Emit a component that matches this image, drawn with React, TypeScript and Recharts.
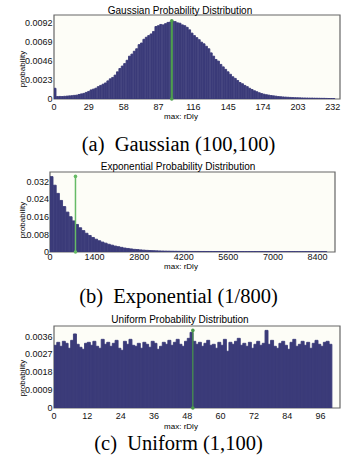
import React from "react";
import {
  ComposedChart,
  Bar,
  XAxis,
  YAxis,
  CartesianGrid,
  ReferenceArea,
  ReferenceLine,
  ReferenceDot,
} from "recharts";

const BAR_COLOR = "#3b3b79";
const PLOT_BG = "#fdfdf7";
const SANS = "'Liberation Sans', Arial, sans-serif";
const SERIF = "'Liberation Serif', 'Times New Roman', serif";

// (a) Gaussian — bins 2 wide, starting at 0
const gaussBinWidth = 2;
const gaussProb = [
  0.0013, 0.0003, 0.00031, 0.0003, 0.00033, 0.00035, 0.00038, 0.0004, 0.00044, 0.00047,
  0.00055, 0.00062, 0.00068, 0.0008, 0.00092, 0.0011, 0.0012, 0.00131, 0.0015, 0.00165,
  0.0018, 0.00195, 0.0022, 0.00245, 0.00262, 0.0029, 0.0033, 0.0037, 0.004, 0.0043,
  0.0047, 0.0052, 0.00545, 0.0058, 0.0061, 0.0066, 0.0068, 0.00725, 0.0075, 0.0077,
  0.0079, 0.0082, 0.0088, 0.0089, 0.00905, 0.009, 0.00915, 0.0093, 0.00935, 0.00945,
  0.0094, 0.00925, 0.0092, 0.009, 0.0089, 0.0087, 0.0084, 0.008, 0.0077, 0.00745,
  0.0072, 0.0069, 0.0067, 0.0064, 0.0061, 0.0056, 0.0052, 0.0048, 0.0046, 0.0042,
  0.0039, 0.0036, 0.0033, 0.003, 0.0027, 0.0025, 0.00225, 0.002, 0.00185, 0.00165,
  0.0015, 0.0013, 0.00115, 0.001, 0.00088, 0.00076, 0.00066, 0.00058, 0.00052, 0.00047,
  0.00042, 0.00038, 0.00034, 0.0003, 0.00027, 0.00025, 0.00023, 0.00021, 0.00019, 0.00017,
  0.00016, 0.00015, 0.00014, 0.00013, 0.00012, 0.00012, 0.00011, 0.00011, 0.0001, 0.00009,
  0.00009, 0.00008, 0.00008, 0.00007, 0.00006, 0.00006, 0.00005,
];
const gaussXTicks = [0, 29, 58, 87, 116, 145, 174, 203, 232];
const gaussYTicks = [0, 0.0023, 0.0046, 0.0069, 0.0092];
const gaussMax = { x: 98, y: 0.0095 };

// (b) Exponential — bins 100 wide
const expBinWidth = 100;
const expProb = [
  0.0342, 0.0303, 0.0266, 0.0234, 0.0206, 0.0181, 0.016, 0.0141, 0.0125, 0.011,
  0.0097, 0.0085, 0.0075, 0.0066, 0.0058, 0.0051, 0.0045, 0.004, 0.0035, 0.0031,
  0.0027, 0.0024, 0.0021, 0.0018, 0.0016, 0.0014, 0.0012, 0.0011, 0.00095, 0.00084,
  0.00074, 0.00066, 0.00059, 0.00053, 0.00048, 0.00044, 0.0004, 0.00037, 0.00034, 0.00032,
  0.0003, 0.00029, 0.00028, 0.00027, 0.00026, 0.00026, 0.00025, 0.00024, 0.00024, 0.00023,
  0.00023, 0.00022, 0.00022, 0.00021, 0.00022, 0.00021, 0.0002, 0.00021, 0.0002, 0.0002,
  0.0002, 0.00019, 0.0002, 0.00019, 0.00019, 0.00018, 0.00019, 0.00018, 0.00018, 0.00018,
  0.00017, 0.00018, 0.00017, 0.00017, 0.00016, 0.00017, 0.00016, 0.00016, 0.00016, 0.00015,
  0.00016, 0.00015, 0.00015, 0.00014, 0.00015, 0.00014, 0.00013,
];
const expXTicks = [0, 1400, 2800, 4200, 5600, 7000, 8400];
const expYTicks = [0, 0.008, 0.016, 0.024, 0.032];
const expMax = { x: 800, y: 0.0343 };

// (c) Uniform — bins 1 wide
const uniBinWidth = 1;
const uniProb = [
  0.00315, 0.0033, 0.0031, 0.00335, 0.00325, 0.003, 0.0034, 0.00372, 0.0032, 0.00305,
  0.00295, 0.00325, 0.0033, 0.00315, 0.00335, 0.0031, 0.003, 0.00345, 0.0032, 0.0033,
  0.0031, 0.00325, 0.0034, 0.003, 0.0029, 0.00335, 0.0032, 0.00345, 0.00315, 0.0031,
  0.00325, 0.003, 0.0033, 0.0032, 0.00305, 0.00335, 0.00325, 0.00295, 0.0031, 0.0033,
  0.0032, 0.0034, 0.00315, 0.0033, 0.00345, 0.0032, 0.0031, 0.00335, 0.0035, 0.0038,
  0.00335, 0.0032, 0.0033, 0.0031, 0.00325, 0.0034, 0.00315, 0.0032, 0.003, 0.0033,
  0.00315, 0.00345, 0.00285, 0.0033, 0.0032, 0.00335, 0.0035, 0.00315, 0.00325, 0.0031,
  0.0033, 0.003, 0.0032, 0.00335, 0.00315, 0.00325, 0.0039, 0.0032, 0.0034, 0.0031,
  0.003, 0.00325, 0.00335, 0.00315, 0.00295, 0.0033, 0.00345, 0.0031, 0.0032, 0.00335,
  0.00315, 0.0033, 0.003, 0.00325, 0.0034, 0.0032, 0.0031, 0.0033, 0.00335, 0.0032,
];
const uniXTicks = [0, 12, 24, 36, 48, 60, 72, 84, 96];
const uniYTicks = [0, 0.0009, 0.0018, 0.0027, 0.0036];
const uniMax = { x: 50, y: 0.0039 };

const toRows = (probs: number[], w: number) =>
  probs.map((p, i) => ({ x: w * i + w / 2, p }));

const fmt4 = (v: number) => (v === 0 ? "0" : v.toFixed(4));
const fmt3 = (v: number) => (v === 0 ? "0" : v.toFixed(3));

type Layout = {
  top: number;
  height: number;
  mt: number;
  mr: number;
  yw: number;
  xh: number;
  xtm: number;
  ytm: number;
};

function Hist(props: {
  rows: { x: number; p: number }[];
  xMax: number;
  yMax: number;
  xTicks: number[];
  yTicks: number[];
  yFmt: (v: number) => string;
  mark: { x: number; y: number };
  markColor: string;
  markWidth: number;
  lay: Layout;
}) {
  const { rows, xMax, yMax, xTicks, yTicks, yFmt, mark, markColor, markWidth, lay } = props;
  const tick = { fontSize: 9, fill: "#111", fontFamily: SANS };
  return (
    <div style={{ position: "absolute", left: 0, top: lay.top }}>
      <ComposedChart
        width={357}
        height={lay.height}
        data={rows}
        margin={{ top: lay.mt, right: lay.mr, bottom: 0, left: 0 }}
        barCategoryGap={0}
        barGap={0}
      >
        <CartesianGrid fill={PLOT_BG} horizontal={false} vertical={false} />
        <XAxis
          type="number"
          dataKey="x"
          domain={[0, xMax]}
          ticks={xTicks}
          interval={0}
          allowDataOverflow
          height={lay.xh}
          axisLine={false}
          tickLine={false}
          tickSize={0}
          tickMargin={lay.xtm}
          tick={tick}
        />
        <YAxis
          type="number"
          domain={[0, yMax]}
          ticks={yTicks}
          interval={0}
          allowDataOverflow
          width={lay.yw}
          axisLine={false}
          tickLine={false}
          tickSize={0}
          tickMargin={lay.ytm}
          tickFormatter={yFmt}
          tick={tick}
        />
        {/* thin stroke closes the sub-pixel gaps left by integer bar widths */}
        <Bar dataKey="p" fill={BAR_COLOR} stroke={BAR_COLOR} strokeWidth={0.9} isAnimationActive={false} />
        <ReferenceArea x1={0} x2={xMax} y1={0} y2={yMax} fill="none" stroke="#666" strokeWidth={1.2} />
        <ReferenceLine
          segment={[{ x: mark.x, y: 0 }, { x: mark.x, y: mark.y }]}
          stroke={markColor}
          strokeWidth={markWidth}
        />
        <ReferenceDot x={mark.x} y={mark.y} r={1.8} fill={markColor} stroke="none" />
        <ReferenceDot x={mark.x} y={0} r={1.8} fill={markColor} stroke="none" />
      </ComposedChart>
    </div>
  );
}

function Txt(props: { x: number; base: number; size: number; family: string; children: string }) {
  const { x, base, size, family, children } = props;
  // baseline ≈ top + 0.84em for these fonts with line-height = font size
  return (
    <div
      style={{
        position: "absolute",
        left: x - 150,
        width: 300,
        top: base - size * 0.84,
        textAlign: "center",
        fontSize: size,
        lineHeight: `${size}px`,
        fontFamily: family,
        color: "#000",
        whiteSpace: "pre",
      }}
    >
      {children}
    </div>
  );
}

function YLabel(props: { cx: number; cy: number }) {
  return (
    <div
      style={{
        position: "absolute",
        left: props.cx - 30,
        top: props.cy - 5,
        width: 60,
        height: 10,
        lineHeight: "10px",
        textAlign: "center",
        fontSize: 8,
        fontFamily: SANS,
        color: "#000",
        transform: "rotate(-90deg)",
      }}
    >
      probability
    </div>
  );
}

export default function App() {
  return (
    <div style={{ position: "absolute", left: 0, top: 0, width: 357, height: 469, background: "#fff", overflow: "hidden" }}>
      <Hist
        rows={toRows(gaussProb, gaussBinWidth)}
        xMax={238}
        yMax={0.0102}
        xTicks={gaussXTicks}
        yTicks={gaussYTicks}
        yFmt={fmt4}
        mark={gaussMax}
        markColor="#4e9e4e"
        markWidth={2.2}
        lay={{ top: 0, height: 125, mt: 15, mr: 17, yw: 54, xh: 26, xtm: 5, ytm: 1.5 }}
      />
      <Txt x={180} base={14} size={10} family={SANS}>Gaussian Probability Distribution</Txt>
      <YLabel cx={23} cy={68.5} />
      <Txt x={181} base={119.5} size={8} family={SANS}>max: rDly</Txt>
      <Txt x={178.5} base={151} size={20.5} family={SERIF}>{"(a)  Gaussian (100,100)"}</Txt>

      <Hist
        rows={toRows(expProb, expBinWidth)}
        xMax={8950}
        yMax={0.0363}
        xTicks={expXTicks}
        yTicks={expYTicks}
        yFmt={fmt3}
        mark={expMax}
        markColor="#66bb66"
        markWidth={1.5}
        lay={{ top: 150, height: 120, mt: 22, mr: 22, yw: 50, xh: 18, xtm: 2, ytm: 1 }}
      />
      <Txt x={178} base={170.7} size={10} family={SANS}>Exponential Probability Distribution</Txt>
      <YLabel cx={23} cy={220} />
      <Txt x={181} base={270} size={8} family={SANS}>max: rDly</Txt>
      <Txt x={178.5} base={303.3} size={20.5} family={SERIF}>{"(b)  Exponential (1/800)"}</Txt>

      <Hist
        rows={toRows(uniProb, uniBinWidth)}
        xMax={103}
        yMax={0.00412}
        xTicks={uniXTicks}
        yTicks={uniYTicks}
        yFmt={fmt4}
        mark={uniMax}
        markColor="#4a9a4a"
        markWidth={1.2}
        lay={{ top: 310, height: 120, mt: 16, mr: 17, yw: 54, xh: 22, xtm: 5, ytm: 1.5 }}
      />
      <Txt x={180} base={323.3} size={10} family={SANS}>Uniform Probability Distribution</Txt>
      <YLabel cx={23} cy={377.5} />
      <Txt x={181} base={430} size={8} family={SANS}>max: rDly</Txt>
      <Txt x={178.5} base={450.5} size={20.5} family={SERIF}>{"(c)  Uniform (1,100)"}</Txt>
    </div>
  );
}
